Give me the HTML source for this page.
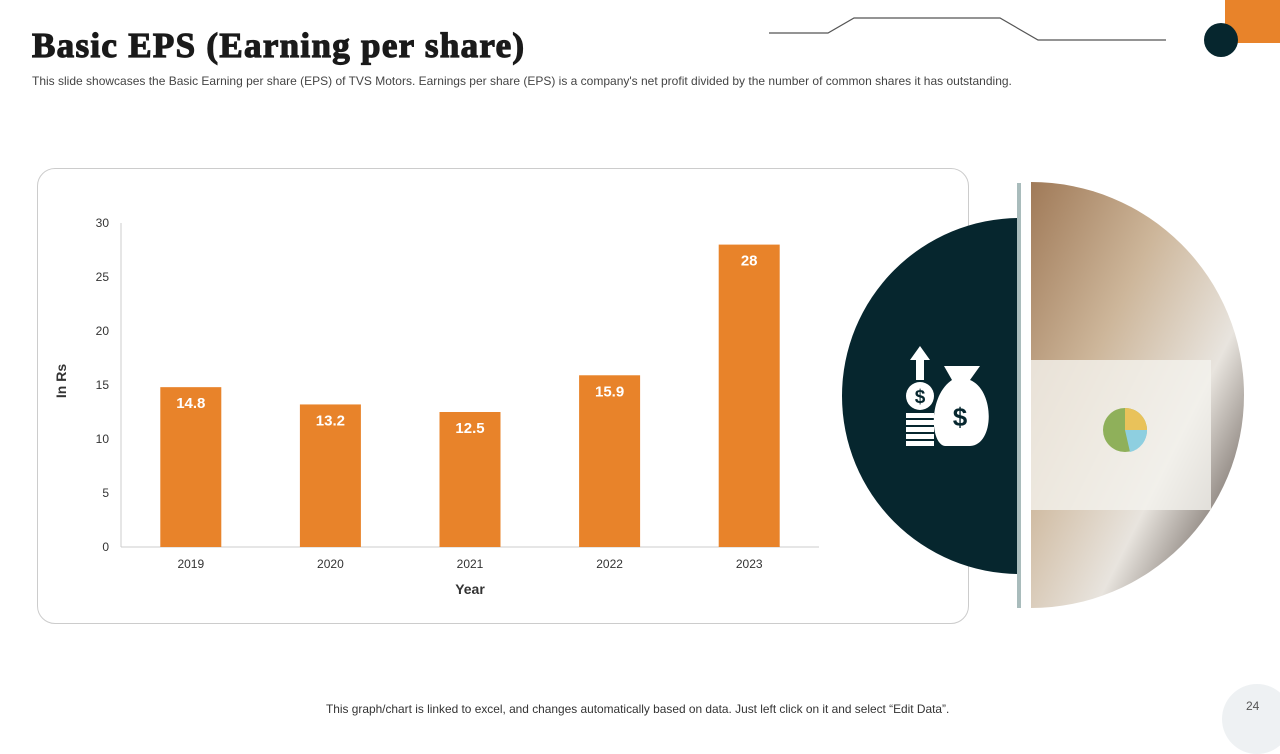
<!DOCTYPE html>
<html><head><meta charset="utf-8"><style>
body{margin:0;width:1280px;height:720px;position:relative;overflow:hidden;background:#fff;font-family:"Liberation Sans",sans-serif}
.abs{position:absolute}
</style></head><body>
<div class="abs" style="left:32px;top:26px;font-size:35px;font-weight:bold;color:#1a1a1a;font-family:'Liberation Serif',serif;letter-spacing:1.3px;-webkit-text-stroke:1.2px #1a1a1a">Basic EPS (Earning per share)</div>
<div class="abs" style="left:32px;top:74px;font-size:12px;color:#444;white-space:nowrap;letter-spacing:0px">This slide showcases the Basic Earning per share (EPS) of TVS Motors. Earnings per share (EPS) is a company's net profit divided by the number of common shares it has outstanding.</div>
<svg class="abs" style="left:0;top:0" width="1280" height="70">
<polyline points="769,33 828,33 854,18 1000,18 1038,40 1166,40" fill="none" stroke="#555" stroke-width="1.2"/>
<rect x="1225" y="0" width="55" height="43" fill="#e8832a"/>
<circle cx="1221" cy="40" r="17" fill="#06262e"/>
</svg>
<div class="abs" style="left:37px;top:168px;width:932px;height:456px;border:1px solid #ccc;border-radius:18px;box-sizing:border-box"></div>
<svg class="abs" id="chart" style="left:0;top:0" width="1000" height="720"></svg>
<svg class="abs" style="left:830px;top:170px" width="430" height="450">
<defs><linearGradient id="ph" x1="0" y1="0" x2="1" y2="1"><stop offset="0" stop-color="#a07a58"/><stop offset="0.35" stop-color="#cdb69a"/><stop offset="0.65" stop-color="#e8e4de"/><stop offset="1" stop-color="#3a2e28"/></linearGradient></defs>
<path d="M190,48 A178,178 0 0 0 190,404 Z" fill="#06262e"/>
<rect x="187" y="13" width="4" height="425" fill="#a9bcbc"/>
<path d="M201,12 A213,213 0 0 1 201,438 Z" fill="url(#ph)"/>
<rect x="201" y="190" width="180" height="150" fill="#f4f2ee" opacity="0.8"/>
<circle cx="295" cy="260" r="22" fill="#8fb05a"/>
<path d="M295,238 A22,22 0 0 1 317,260 L295,260Z" fill="#e9c25a"/>
<path d="M317,260 A22,22 0 0 1 300,282 L295,260Z" fill="#8ecfe0"/>
<g fill="#fff">
<polygon points="90,176 100,190 94,190 94,210 86,210 86,190 80,190"/>
<circle cx="90" cy="226" r="14"/>
<rect x="76" y="243" width="28" height="5"/><rect x="76" y="250" width="28" height="5"/><rect x="76" y="257" width="28" height="5"/><rect x="76" y="264" width="28" height="5"/><rect x="76" y="271" width="28" height="5"/>
<path d="M114,196 L150,196 L140,210 C165,220 165,275 140,276 L115,276 C100,274 98,226 122,210 Z"/>
</g>
<text x="90" y="233" font-size="19" font-weight="bold" fill="#06262e" text-anchor="middle" font-family="Liberation Sans">$</text>
<text x="130" y="256" font-size="26" font-weight="bold" fill="#06262e" text-anchor="middle" font-family="Liberation Sans">$</text>
</svg>
<div class="abs" style="left:326px;top:702px;font-size:11.9px;color:#333;white-space:nowrap">This graph/chart is linked to excel, and changes automatically based on data. Just left click on it and select “Edit Data”.</div>
<div class="abs" style="left:1222px;top:684px;width:70px;height:70px;border-radius:50%;background:#eef1f3"></div>
<div class="abs" style="left:1246px;top:699px;font-size:12px;color:#555">24</div>
<script>
const categories=["2019","2020","2021","2022","2023"];
const values=[14.8,13.2,12.5,15.9,28];
const yTicks=[0,5,10,15,20,25,30];
const svg=document.getElementById('chart');
const NS='http://www.w3.org/2000/svg';
const x0=121,x1=819,yBase=547,yTop=223,yMax=30;
const y=v=>yBase-(v/yMax)*(yBase-yTop);
const step=(x1-x0)/categories.length;
const xc=i=>x0+step*(i+0.5);
function mk(t,a){const e=document.createElementNS(NS,t);for(const k in a)e.setAttribute(k,a[k]);svg.appendChild(e);return e;}
let ax=mk('line',{x1:x0,y1:yTop,x2:x0,y2:yBase,stroke:'#ccc'});


let bx=mk('line',{x1:x0,y1:yBase,x2:x1,y2:yBase,stroke:'#ccc'});


yTicks.forEach(t=>{const e=mk('text',{x:109,y:y(t)+4,'text-anchor':'end','font-size':12,fill:'#333','font-family':'Liberation Sans'});e.textContent=t;

});
categories.forEach((c,i)=>{
const r=mk('rect',{x:xc(i)-30.5,y:y(values[i]),width:61,height:yBase-y(values[i]),fill:'#e8832a'});


const v=mk('text',{x:xc(i),y:y(values[i])+21,'text-anchor':'middle','font-size':15,'font-weight':'bold',fill:'#fff','font-family':'Liberation Sans'});v.textContent=values[i];


const l=mk('text',{x:xc(i),y:568,'text-anchor':'middle','font-size':12,fill:'#333','font-family':'Liberation Sans'});l.textContent=c;


});
const xt=mk('text',{x:470,y:594,'text-anchor':'middle','font-size':14,'font-weight':'bold',fill:'#333','font-family':'Liberation Sans'});xt.textContent='Year';


const yt=mk('text',{x:0,y:0,transform:'translate(66,381) rotate(-90)','text-anchor':'middle','font-size':14,'font-weight':'bold',fill:'#333','font-family':'Liberation Sans'});yt.textContent='In Rs';


</script>
</body></html>
